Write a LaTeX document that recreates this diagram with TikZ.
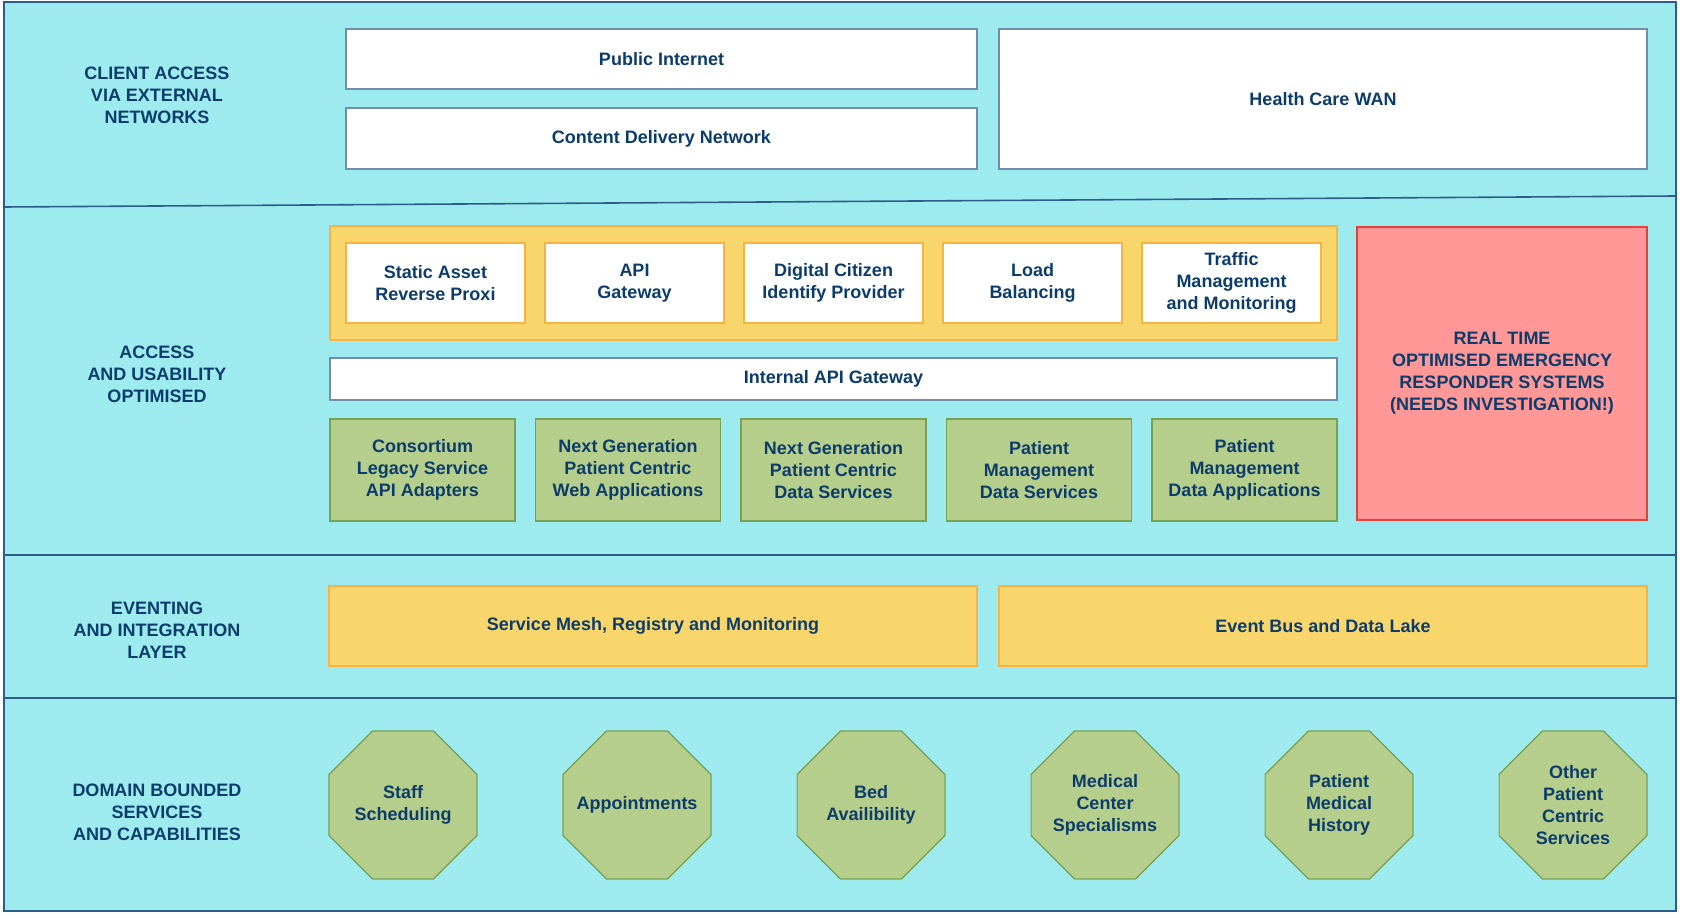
\documentclass[tikz,border=0pt]{standalone}
\usepackage{fontspec}
\setmainfont{Liberation Sans}
\usepackage{tikz}
\usetikzlibrary{shapes.geometric,positioning}
\definecolor{bandbg}{RGB}{157,235,238}
\definecolor{frame}{RGB}{44,92,138}
\definecolor{ink}{RGB}{12,60,108}
\definecolor{netline}{RGB}{112,142,172}
\definecolor{trayfill}{RGB}{249,214,108}
\definecolor{trayline}{RGB}{246,178,66}
\definecolor{appfill}{RGB}{181,206,139}
\definecolor{appline}{RGB}{118,162,84}
\definecolor{alertfill}{RGB}{255,152,150}
\definecolor{alertline}{RGB}{226,66,60}
\tikzset{
  bandframe/.style={draw=frame, line width=1.6pt},
  layertag/.style={font=\bfseries\fontsize{18}{22}\selectfont, text=ink, align=center},
  boxtext/.style={font=\bfseries\fontsize{18}{22}\selectfont, text=ink, align=center, inner sep=0pt},
  netbox/.style={boxtext, draw=netline, fill=white, line width=1.2pt},
  edgetray/.style={draw=trayline, fill=trayfill, line width=1.2pt, inner sep=0pt},
  edgebox/.style={boxtext, draw=trayline, fill=white, line width=1.2pt, minimum width=179pt, minimum height=80pt},
  appbox/.style={boxtext, draw=appline, fill=appfill, line width=1.2pt, minimum width=185pt, minimum height=102pt},
  alertbox/.style={boxtext, draw=alertline, fill=alertfill, line width=1.4pt},
  busbox/.style={boxtext, draw=trayline, fill=trayfill, line width=1.2pt, minimum width=648pt, minimum height=80pt},
  capoct/.style={draw=appline, fill=appfill, line width=1.2pt, inner sep=0pt, regular polygon, regular polygon sides=8, minimum size=160pt}
}
\begin{document}
\begin{tikzpicture}[x=1pt,y=-1pt]
  \useasboundingbox (0,0) rectangle (1682,917);
  \fill[bandbg] (4,2) rectangle (1676,911);
  \draw[bandframe] (4,2) rectangle (1676,911);
  \draw[bandframe] (4,207)--(1676,196);
  \draw[bandframe] (4,555)--(1676,555);
  \draw[bandframe] (4,698)--(1676,698);
  % layer names
  \node[layertag] (tagclient) at (157,95) {CLIENT ACCESS\\VIA EXTERNAL\\NETWORKS};
  \node[layertag] (tagaccess) at (157,374) {ACCESS\\AND USABILITY\\OPTIMISED};
  \node[layertag] (tagevent) at (157,630) {EVENTING\\AND INTEGRATION\\LAYER};
  \node[layertag] (tagdomain) at (157,812) {DOMAIN BOUNDED\\SERVICES\\AND CAPABILITIES};
  % external networks
  \node[netbox, minimum width=631pt, minimum height=60pt] (internet) at (661.5,59) {Public Internet};
  \node[netbox, minimum width=631pt, minimum height=61pt] (cdn) at (661.5,138.5) {Content Delivery Network};
  \node[netbox, minimum width=648pt, minimum height=140pt] (wan) at (1323,99) {Health Care WAN};
  % access and usability
  \node[edgetray, minimum width=1007pt, minimum height=114pt] (tray) at (833.5,283) {};
  \foreach \t [count=\i] in {{Static Asset\\Reverse Proxi},{API\\Gateway},{Digital Citizen\\Identify Provider},{Load\\Balancing},{Traffic\\Management\\and Monitoring}}
    \node[edgebox] (edge\i) at ({435.5+199*(\i-1)},283) {\t};
  \node[netbox, minimum width=1007pt, minimum height=42pt] (intapi) at (833.5,379) {Internal API Gateway};
  \foreach \t [count=\i] in {{Consortium\\Legacy Service\\API Adapters},{Next Generation\\Patient Centric\\Web Applications},{Next Generation\\Patient Centric\\Data Services},{Patient\\Management\\Data Services},{Patient\\Management\\Data Applications}}
    \node[appbox] (app\i) at ({422.5+205.5*(\i-1)},470) {\t};
  \node[alertbox, minimum width=290pt, minimum height=293pt] (realtime) at (1502,373.5) {REAL TIME\\OPTIMISED EMERGENCY\\RESPONDER SYSTEMS\\(NEEDS INVESTIGATION!)};
  % eventing
  \node[busbox] (mesh) at (653,626) {Service Mesh, Registry and Monitoring};
  \node[busbox] (bus) at (1323,626) {Event Bus and Data Lake};
  % domain capabilities
  \foreach \t [count=\i] in {{Staff\\Scheduling},{Appointments},{Bed\\Availibility},{Medical\\Center\\Specialisms},{Patient\\Medical\\History},{Other\\Patient\\Centric\\Services}}{
    \node[capoct] (cap\i) at ({403+234*(\i-1)},805) {};
    \node[boxtext] (captext\i) at (cap\i.center) {\t};
  }
\end{tikzpicture}
\end{document}
